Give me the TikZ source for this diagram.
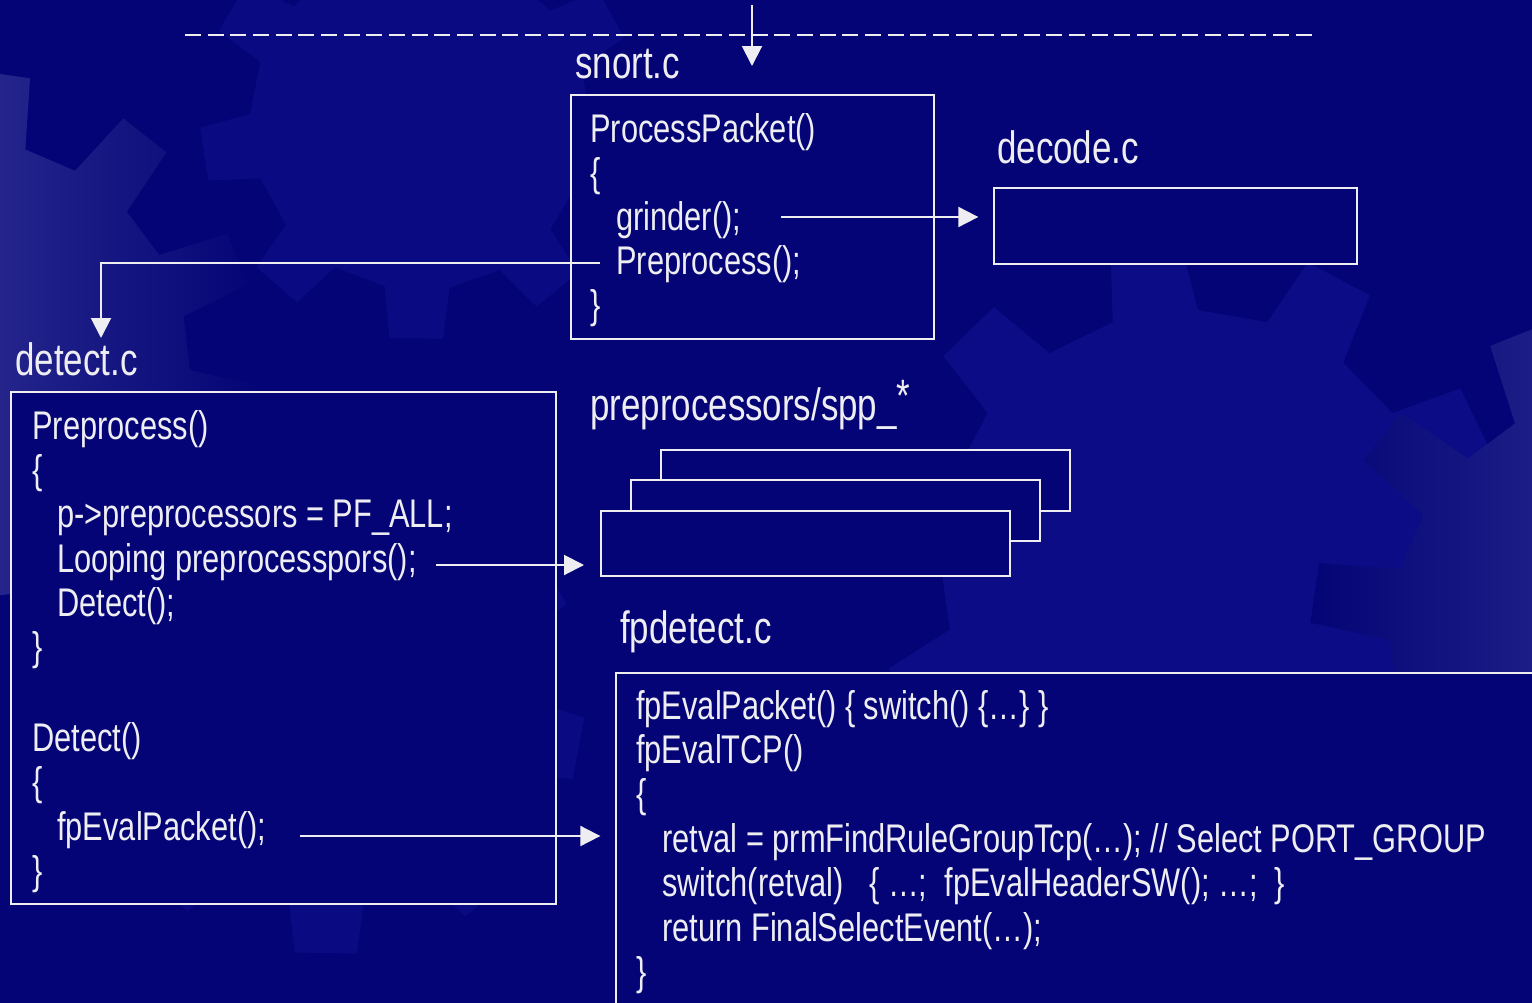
\documentclass[tikz,border=0pt]{standalone}
\usepackage{fontspec}
\setmainfont[FakeStretch=0.77]{Liberation Sans}
\usetikzlibrary{arrows.meta,calc}
\definecolor{navy}{RGB}{4,4,118}
\definecolor{gearlight}{RGB}{78,78,168}
\definecolor{gearmid}{RGB}{14,14,140}
\definecolor{fg}{RGB}{238,238,242}
\tikzset{
  code/.style={anchor=base west, inner sep=0pt, text=fg, font=\fontsize{30}{33}\selectfont},
  lbl/.style={anchor=base west, inner sep=0pt, text=fg, font=\fontsize{34}{37}\selectfont},
  box/.style={draw=fg, line width=1.5pt, fill=navy, inner sep=0pt},
  conn/.style={draw=fg, line width=1.5pt, -{Triangle[width=15pt,length=15pt]}},
}
\newcommand{\gearpath}[5]{% center x, center y, inner r, outer r, teeth step
  (#1,#2) ++(0:#3) \foreach \a in {0,#5,...,359} { -- ($(#1,#2)+(\a+0.1*#5:#4)$) -- ($(#1,#2)+(\a+0.45*#5:#4)$) -- ($(#1,#2)+(\a+0.55*#5:#3)$) -- ($(#1,#2)+(\a+#5:#3)$)} -- cycle}
\begin{document}
\begin{tikzpicture}[x=0.75pt,y=-0.75pt]
\useasboundingbox (0,0) rectangle (1532,1003);
\fill[navy] (0,0) rectangle (1532,1003);
\begin{scope}
\clip (0,0) rectangle (1532,1003);
% faint gears
\fill[gearmid,opacity=0.8] \gearpath{1190}{560}{250}{320}{36};
\fill[gearmid,opacity=0.6] \gearpath{330}{700}{200}{255}{40};
\fill[gearmid,opacity=0.6] \gearpath{420}{120}{170}{220}{40};
% light gears
\shade[left color=gearlight, right color=navy] \gearpath{-40}{370}{230}{300}{30};
\shade[right color=gearlight, left color=navy] \gearpath{1640}{640}{250}{330}{30};
\end{scope}

% dashed line and entry arrow
\draw[fg, line width=1.5pt, dash pattern=on 12pt off 5pt] (185,35) -- (1318,35);
\coordinate (entry) at (752,5);
\coordinate (entryend) at (752,66);
\draw[conn] (entry) -- (entryend);

% snort.c
\node[lbl] (snortlbl) at (575,78) {snort.c};
\node[box, minimum width=363*0.75pt, minimum height=244*0.75pt, anchor=north west] (snort) at (570,94) {};
\node[code] (s1) at (590,142) {ProcessPacket()};
\node[code] (s2) at (590,186) {\{};
\node[code] (s3) at (616,230) {grinder();};
\node[code] (s4) at (616,274) {Preprocess();};
\node[code] (s5) at (590,318) {\}};

% decode.c
\node[lbl] (declbl) at (997,163) {decode.c};
\node[box, minimum width=363*0.75pt, minimum height=76*0.75pt, anchor=north west] (decode) at (993,187) {};
\coordinate (grow) at (0,217);
\draw[conn] ([xshift=30pt]s3.east |- grow) -- ([xshift=-11pt]decode.west |- grow);

% detect.c
\node[lbl] (detlbl) at (15,375) {detect.c};
\node[box, minimum width=545*0.75pt, minimum height=512*0.75pt, anchor=north west] (detect) at (10,391) {};
\coordinate (turn) at (101,263);
\coordinate (detin) at (101,338);
\draw[conn] ([xshift=-12pt]s4.west |- turn) -- (turn) -- (detin);
\node[code] (d1) at (32,439) {Preprocess()};
\node[code] (d2) at (32,483) {\{};
\node[code] (d3) at (57,527) {p->preprocessors = PF\_ALL;};
\node[code] (d4) at (57,572) {Looping preprocesspors();};
\node[code] (d5) at (57,616) {Detect();};
\node[code] (d6) at (32,660) {\}};
\node[code] (d7) at (32,751) {Detect()};
\node[code] (d8) at (32,795) {\{};
\node[code] (d9) at (57,840) {fpEvalPacket();};
\node[code] (d10) at (32,884) {\}};

% preprocessors
\node[lbl] (spplbl) at (590,420) {preprocessors/spp\_\raisebox{0.35ex}{*}};
\node[box, minimum width=409*0.75pt, minimum height=61*0.75pt, anchor=north west] (spp3) at (660,449) {};
\node[box, minimum width=409*0.75pt, minimum height=61*0.75pt, anchor=north west] (spp2) at (630,479) {};
\node[box, minimum width=409*0.75pt, minimum height=65*0.75pt, anchor=north west] (spp1) at (600,510) {};
\coordinate (lrow) at (0,565);
\draw[conn] ([xshift=14pt]d4.east |- lrow) -- ([xshift=-12pt]spp1.west |- lrow);

% fpdetect.c
\node[lbl] (fplbl) at (620,643) {fpdetect.c};
\node[box, minimum width=960*0.75pt, minimum height=400*0.75pt, anchor=north west] (fpdet) at (615,672) {};
\node[code] (f1) at (636,719) {fpEvalPacket() \{ switch() \{…\} \}};
\node[code] (f2) at (636,763) {fpEvalTCP()};
\node[code] (f3) at (636,807) {\{};
\node[code] (f4) at (662,852) {retval = prmFindRuleGroupTcp(…); // Select PORT\_GROUP};
\node[code] (f5) at (662,896) {switch(retval)\ \ \ \{ …;\ \ fpEvalHeaderSW(); …;\ \ \}};
\node[code] (f6) at (662,941) {return FinalSelectEvent(…);};
\node[code] (f7) at (636,985) {\}};
\coordinate (frow) at (0,836);
\draw[conn] ([xshift=25pt]d9.east |- frow) -- ([xshift=-11pt]fpdet.west |- frow);
\end{tikzpicture}
\end{document}
